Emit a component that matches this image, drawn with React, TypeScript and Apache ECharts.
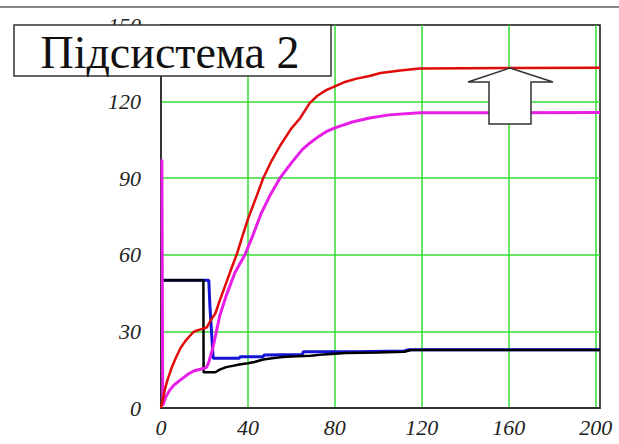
import React, { useEffect, useRef } from "react";
import * as echarts from "echarts";

const xTicks = [0, 40, 80, 120, 160, 200];
const yTicks = [0, 30, 60, 90, 120, 150];
const titleText = "Підсистема 2";

const redData: [number, number][] = [
  [0, 0], [0.5, 2], [1, 4], [2, 8], [3, 11], [5, 16], [7, 20], [9, 23.5], [11, 26],
  [13, 28], [15, 29.8], [17, 30.5], [19, 31], [21, 31.5], [22, 33], [23, 34.5], [25, 37],
  [27, 42], [30, 49], [33, 56], [35, 60.5], [37, 66], [40, 74], [44, 83], [47, 90],
  [51, 97], [55, 103], [60, 109.5], [64, 113.5], [68.5, 119.5], [72, 122.3], [76, 124.5],
  [80, 126], [85, 127.8], [90, 129], [96, 130], [101, 131.2], [110, 132.2], [119, 133],
  [202, 133.3],
];

const magentaData: [number, number][] = [
  [0, 97], [0.4, 97], [0.8, 1], [2, 4], [4, 7], [6, 9], [9, 11], [12, 13], [15, 14.5],
  [18, 15.2], [20, 15.6], [21, 16], [22, 18], [24, 24], [27, 36], [30, 44], [34, 53],
  [38.6, 60], [42, 67], [46, 76], [50, 83], [54.7, 90], [60, 96], [65, 101.2],
  [68.5, 103.8], [72, 106], [76, 108.2], [80, 109.7], [88, 112], [96, 113.6],
  [105, 114.8], [119, 115.6], [202, 115.7],
];

const blackData: [number, number][] = [
  [0, 50], [19.5, 50], [19.6, 14], [25, 14], [27, 15], [30, 16], [33, 16.5], [36, 17],
  [40, 17.5], [43, 18], [47, 19], [52, 19.6], [56, 20], [60, 20.2], [69, 20.5],
  [75, 21], [85, 21.5], [100, 21.7], [112, 22], [115, 22.7], [202, 22.7],
];

const blueData: [number, number][] = [
  [0, 50], [22, 50], [22.5, 40], [24, 19.5], [36, 19.5], [36.5, 20.1], [47, 20.1],
  [47.5, 20.8], [65, 21], [65.5, 22], [90, 22], [112, 22.3], [114, 22.8], [202, 22.8],
];

const labelFont = {
  fontFamily: "Liberation Serif",
  fontStyle: "italic" as const,
  fontSize: 22,
  color: "#222",
};

export default function App() {
  const ref = useRef<HTMLDivElement>(null);
  useEffect(() => {
    if (!ref.current) return;
    const chart = echarts.init(ref.current, undefined, { renderer: "svg" });
    const line = (data: [number, number][], color: string, width: number) => ({
      type: "line",
      data,
      showSymbol: false,
      symbol: "none",
      lineStyle: { color, width },
      itemStyle: { color },
      clip: true,
    });
    chart.setOption({
      animation: false,
      backgroundColor: "#fff",
      grid: {
        left: 161,
        top: 25,
        right: 19,
        bottom: 36,
        show: true,
        borderColor: "#111",
        borderWidth: 1.5,
        backgroundColor: "#fff",
      },
      xAxis: {
        type: "value",
        min: 0,
        max: 202,
        interval: 40,
        axisLine: { show: true, lineStyle: { color: "#333", width: 2 } },
        axisTick: { show: false },
        splitLine: {
          show: true,
          showMinLine: false,
          showMaxLine: false,
          lineStyle: { color: "#33dd33", width: 1.5 },
        },
        axisLabel: {
          ...labelFont,
          margin: 8,
          showMaxLabel: true,
          formatter: (v: number) => (xTicks.includes(v) ? String(v) : ""),
        },
      },
      yAxis: {
        type: "value",
        min: 0,
        max: 150,
        interval: 30,
        axisLine: { show: true, lineStyle: { color: "#333", width: 2 } },
        axisTick: { show: false },
        splitLine: {
          show: true,
          showMinLine: false,
          showMaxLine: false,
          lineStyle: { color: "#33dd33", width: 1.5 },
        },
        axisLabel: {
          ...labelFont,
          margin: 20,
          formatter: (v: number) => (yTicks.includes(v) ? String(v) : ""),
        },
      },
      series: [
        line(blueData, "#1414d4", 3),
        line(blackData, "#000000", 2.5),
        line(magentaData, "#e61ee6", 3),
        line(redData, "#e00a0a", 2.5),
      ],
      graphic: [
        {
          type: "line",
          z: 100,
          shape: { x1: 0, y1: 7, x2: 619, y2: 7 },
          style: { stroke: "#888", lineWidth: 2 },
        },
        {
          type: "rect",
          z: 100,
          shape: { x: 14, y: 25, width: 317, height: 51 },
          style: { fill: "#fff", stroke: "#333", lineWidth: 1.5 },
        },
        {
          type: "text",
          z: 101,
          x: 170,
          y: 52,
          style: {
            text: titleText,
            fontFamily: "Liberation Serif",
            fontSize: 46,
            fill: "#111",
            align: "center",
            verticalAlign: "middle",
          },
        },
        {
          type: "polygon",
          z: 100,
          shape: {
            points: [
              [510, 68], [553, 82], [531, 82], [531, 124], [489, 124], [489, 82], [468, 82],
            ],
          },
          style: { fill: "#fff", stroke: "#333", lineWidth: 1.5 },
        },
      ],
    });
    return () => chart.dispose();
  }, []);
  return (
    <div
      ref={ref}
      style={{ position: "absolute", left: 0, top: 0, width: 619, height: 444, background: "#fff" }}
    />
  );
}
